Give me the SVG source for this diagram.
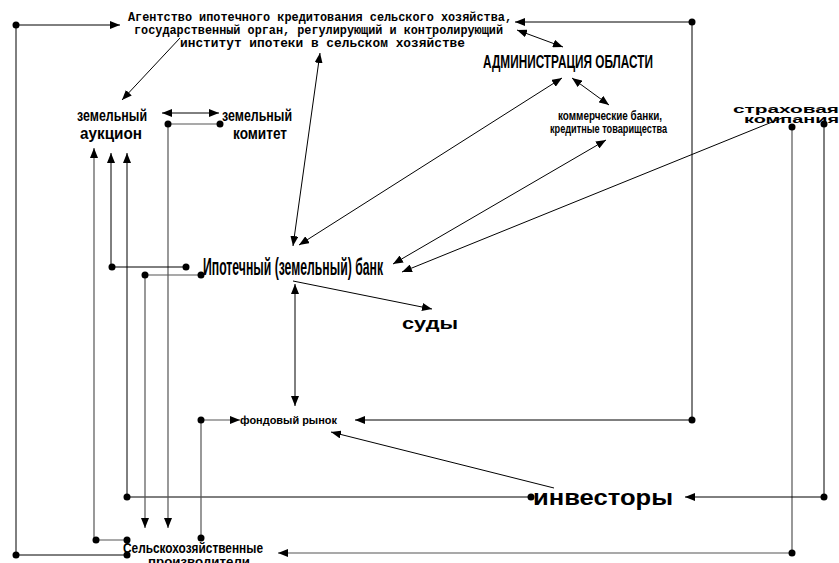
<svg xmlns="http://www.w3.org/2000/svg" width="839" height="563" viewBox="0 0 839 563">
<style>
.ln{fill:none;stroke:#000;stroke-width:1}
.gr{fill:none;stroke:#555;stroke-width:1.2}
.t{font-family:"Liberation Sans",Arial,sans-serif;font-weight:bold;fill:#000}
.mono{font-family:"Liberation Mono","DejaVu Sans Mono",monospace;font-weight:bold;fill:#000}
.ar{marker-end:url(#ah)}
.da{marker-start:url(#ah);marker-end:url(#ah)}
</style>
<defs>
<marker id="ah" viewBox="0 0 10 8" refX="10" refY="4" markerWidth="10" markerHeight="8" markerUnits="userSpaceOnUse" orient="auto-start-reverse">
<path d="M0,0 L10,4 L0,8 z" fill="#000"/>
</marker>
</defs>
<rect width="839" height="563" fill="#fff"/>
<g id="connectors">
<path class="ln ar" d="M127,555 H16 V25 H120"/>
<path class="ln da" d="M515,22 H692 V420 H355"/>
<path class="ln ar" d="M180,38 L122,100"/>
<path class="ln da" d="M320,53 L293,246"/>
<path class="ln da" d="M517,30 L563,47"/>
<path class="ln da" d="M562,78 L299,245"/>
<path class="ln da" d="M572,78 L609,105"/>
<path class="ln da" d="M606,140 L393,264"/>
<path class="ln ar" d="M782,118 L402,272"/>
<path class="gr ar" d="M792,127 V553 H278"/>
<path class="ln ar" d="M824,124 V497 H685"/>
<path class="ln ar" d="M554,488 L331,432"/>
<path class="ln ar" d="M531,497 H127 V153"/>
<path class="ln da" d="M295,284 V406"/>
<path class="ln ar" d="M293,281 L432,309"/>
<path class="ln da" d="M162,113 H219"/>
<path class="gr ar" d="M220,124 H168 V528"/>
<path class="ln ar" d="M186,267 H111 V153"/>
<path class="gr ar" d="M201,275 H145 V528"/>
<path class="gr ar" d="M127,540 H94 V148"/>
<path class="gr ar" d="M201,538 V420 H240"/>
<g fill="#000">
<circle cx="16" cy="25" r="3.5"/><circle cx="16" cy="555" r="3.5"/><circle cx="127" cy="555" r="3.5"/>
<circle cx="692" cy="22" r="3.5"/><circle cx="692" cy="420" r="3.5"/>
<circle cx="792" cy="127" r="3.5"/><circle cx="792" cy="553" r="3.5"/>
<circle cx="824" cy="124" r="3.5"/><circle cx="824" cy="497" r="3.5"/>
<circle cx="531" cy="497" r="3.5"/><circle cx="127" cy="497" r="3.5"/>
<circle cx="220" cy="124" r="3.5"/><circle cx="168" cy="124" r="3.5"/>
<circle cx="186" cy="267" r="3.5"/><circle cx="112" cy="267" r="3.5"/>
<circle cx="201" cy="275" r="3.5"/><circle cx="145" cy="275" r="3.5"/>
<circle cx="127" cy="540" r="3.5"/><circle cx="96" cy="540" r="3.5"/>
<circle cx="201" cy="538" r="3.5"/><circle cx="201" cy="420" r="3.5"/>
</g>
</g>
<g id="agency">
<text class="mono" font-size="12" x="128" y="21" textLength="384" lengthAdjust="spacingAndGlyphs">Агентство ипотечного кредитования сельского хозяйства,</text>
<text class="mono" font-size="12" x="134" y="34" textLength="369" lengthAdjust="spacingAndGlyphs">государственный орган, регулирующий и контролирующий</text>
<text class="mono" font-size="12" x="180" y="47" textLength="285" lengthAdjust="spacingAndGlyphs">институт ипотеки в сельском хозяйстве</text>
</g>
<g id="admin">
<text class="t" font-size="19" x="483" y="68" textLength="170" lengthAdjust="spacingAndGlyphs">АДМИНИСТРАЦИЯ ОБЛАСТИ</text>
</g>
<g id="auction">
<text class="t" font-size="16" x="77" y="121" textLength="70" lengthAdjust="spacingAndGlyphs">земельный</text>
<text class="t" font-size="16" x="80" y="139" textLength="62" lengthAdjust="spacingAndGlyphs">аукцион</text>
</g>
<g id="committee">
<text class="t" font-size="16" x="222" y="121" textLength="70" lengthAdjust="spacingAndGlyphs">земельный</text>
<text class="t" font-size="16" x="233" y="139" textLength="54" lengthAdjust="spacingAndGlyphs">комитет</text>
</g>
<g id="banks">
<text class="t" font-size="12" x="558" y="120" textLength="104" lengthAdjust="spacingAndGlyphs">коммерческие банки,</text>
<text class="t" font-size="12" x="550" y="133" textLength="117" lengthAdjust="spacingAndGlyphs">кредитные товарищества</text>
</g>
<g id="insurance">
<text class="t" font-size="10" x="733" y="113" textLength="106" lengthAdjust="spacingAndGlyphs">страховая</text>
<text class="t" font-size="10" x="744" y="123" textLength="95" lengthAdjust="spacingAndGlyphs">компания</text>
</g>
<g id="mortgage-bank">
<text class="t" font-size="24" x="203" y="275" textLength="180" lengthAdjust="spacingAndGlyphs">Ипотечный (земельный) банк</text>
</g>
<g id="courts">
<text class="t" font-size="17" x="402" y="329" textLength="56" lengthAdjust="spacingAndGlyphs">суды</text>
</g>
<g id="stock-market">
<text class="t" font-size="11" x="240" y="424" textLength="97" lengthAdjust="spacingAndGlyphs">фондовый рынок</text>
</g>
<g id="investors">
<text class="t" font-size="22" x="533" y="505" textLength="140" lengthAdjust="spacingAndGlyphs">инвесторы</text>
</g>
<g id="producers">
<text class="t" font-size="14" x="123" y="553" textLength="140" lengthAdjust="spacingAndGlyphs">Сельскохозяйственные</text>
<text class="t" font-size="13" x="148" y="566" textLength="102" lengthAdjust="spacingAndGlyphs">производители</text>
</g>
</svg>
